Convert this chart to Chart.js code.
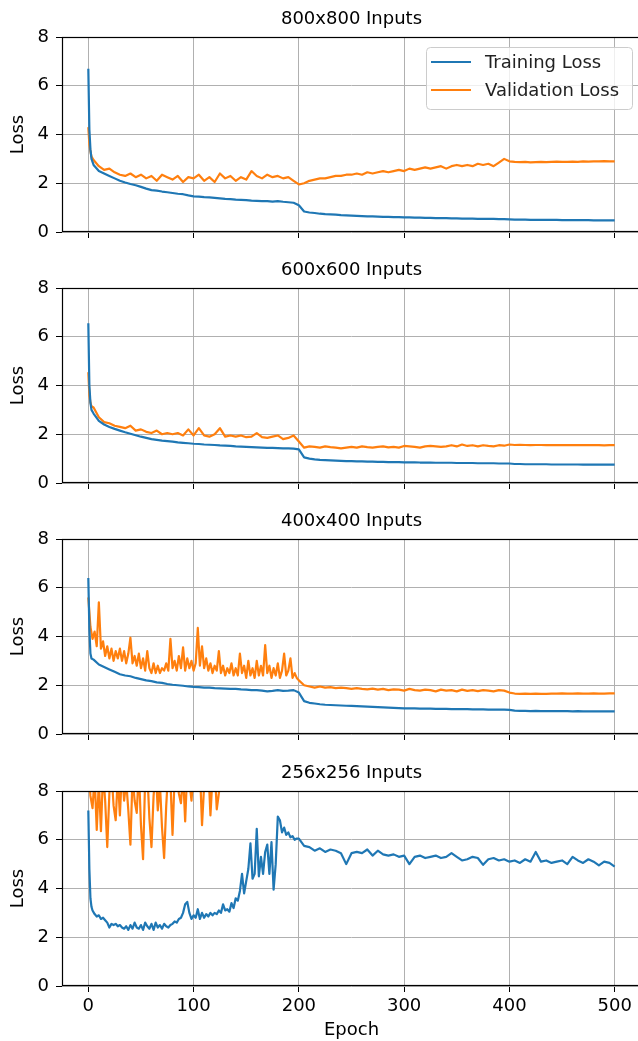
<!DOCTYPE html>
<html>
<head>
<meta charset="utf-8">
<script src="https://cdn.jsdelivr.net/npm/chart.js@4.4.1/dist/chart.umd.min.js"></script>
<style>
  html, body { margin: 0; padding: 0; background: #fff; overflow: hidden; }
  #wrap { position: relative; width: 638px; height: 1041px; overflow: hidden; }
  #wrap canvas { position: absolute; left: 0; }
</style>
</head>
<body>
<div id="wrap">
  <canvas id="c800"></canvas>
  <canvas id="c600"></canvas>
  <canvas id="c400"></canvas>
  <canvas id="c256"></canvas>
</div>
<script>
// sampled epochs (every 5, plus the first few)
const epochs = [0, 1, 2, 3].concat(Array.from({ length: 100 }, (_, i) => 5 + i * 5));
// noisier stretches are read every 2 epochs up to 200
const epochsDense = [0, 1, 2, 3].concat(Array.from({ length: 99 }, (_, i) => 4 + i * 2),
  Array.from({ length: 60 }, (_, i) => 205 + i * 5));
const epochsVal400 = Array.from({ length: 101 }, (_, i) => i * 2)
  .concat(Array.from({ length: 60 }, (_, i) => 205 + i * 5));
// 256x256 validation only shows while it is near the top of the axes
const epochsVal256 = Array.from({ length: 64 }, (_, i) => i * 2);

const train800 = [6.7, 4.2, 3.4, 3.0,
  2.75, 2.5, 2.4, 2.3, 2.2, 2.1, 2.03, 1.97, 1.92, 1.85,
  1.78, 1.72, 1.7, 1.66, 1.63, 1.6, 1.57, 1.55, 1.5, 1.46,
  1.45, 1.43, 1.42, 1.4, 1.38, 1.36, 1.35, 1.33, 1.32, 1.31,
  1.29, 1.28, 1.27, 1.27, 1.25, 1.27, 1.24, 1.22, 1.2, 1.1,
  0.84, 0.8, 0.78, 0.75, 0.73, 0.72, 0.71, 0.69, 0.68, 0.67,
  0.66, 0.65, 0.64, 0.64, 0.63, 0.62, 0.62, 0.61, 0.61, 0.6,
  0.6, 0.59, 0.59, 0.58, 0.58, 0.57, 0.57, 0.57, 0.56, 0.56,
  0.55, 0.55, 0.55, 0.54, 0.54, 0.54, 0.54, 0.53, 0.53, 0.52,
  0.51, 0.51, 0.51, 0.5, 0.5, 0.5, 0.5, 0.5, 0.5, 0.49,
  0.49, 0.49, 0.49, 0.49, 0.49, 0.48, 0.48, 0.48, 0.48, 0.48];
const val800 = [4.3, 3.6, 3.3, 3.1,
  2.95, 2.7, 2.55, 2.6, 2.45, 2.35, 2.3, 2.4, 2.25, 2.35,
  2.2, 2.3, 2.1, 2.35, 2.25, 2.15, 2.3, 2.05, 2.25, 2.2,
  2.35, 2.1, 2.25, 2.05, 2.4, 2.2, 2.3, 2.1, 2.25, 2.15,
  2.5, 2.3, 2.2, 2.35, 2.25, 2.3, 2.2, 2.25, 2.1, 1.95,
  2.0, 2.1, 2.15, 2.2, 2.2, 2.25, 2.3, 2.3, 2.35, 2.35,
  2.4, 2.35, 2.45, 2.4, 2.45, 2.5, 2.45, 2.5, 2.55, 2.5,
  2.6, 2.55, 2.6, 2.65, 2.6, 2.65, 2.7, 2.6, 2.7, 2.75,
  2.7, 2.75, 2.7, 2.8, 2.75, 2.8, 2.7, 2.85, 3.0, 2.9,
  2.88, 2.87, 2.88, 2.86, 2.87, 2.88, 2.87, 2.88, 2.89, 2.88,
  2.88, 2.89, 2.88, 2.9, 2.89, 2.9, 2.9, 2.91, 2.9, 2.9];

const train600 = [6.55, 4.0, 3.3, 3.0,
  2.85, 2.55, 2.4, 2.3, 2.22, 2.15, 2.08, 2.02, 1.96, 1.9,
  1.85, 1.8, 1.77, 1.74, 1.72, 1.7, 1.67, 1.65, 1.63, 1.61,
  1.6, 1.58, 1.57, 1.56, 1.54, 1.53, 1.52, 1.5, 1.49, 1.48,
  1.47, 1.46, 1.45, 1.44, 1.44, 1.43, 1.42, 1.42, 1.41, 1.38,
  1.05, 1.0, 0.97, 0.95, 0.94, 0.93, 0.92, 0.91, 0.9, 0.9,
  0.89, 0.89, 0.88, 0.88, 0.87, 0.87, 0.86, 0.86, 0.86, 0.85,
  0.85, 0.85, 0.84, 0.84, 0.84, 0.83, 0.83, 0.83, 0.83, 0.82,
  0.82, 0.82, 0.82, 0.81, 0.81, 0.81, 0.81, 0.8, 0.8, 0.8,
  0.78, 0.78, 0.77, 0.77, 0.77, 0.77, 0.77, 0.76, 0.76, 0.76,
  0.76, 0.76, 0.76, 0.75, 0.75, 0.75, 0.75, 0.75, 0.75, 0.75];
const val600 = [4.55, 3.6, 3.3, 3.15,
  3.1, 2.7, 2.5, 2.45, 2.35, 2.3, 2.25, 2.35, 2.15, 2.2,
  2.1, 2.05, 2.15, 2.0, 2.05, 2.0, 2.05, 1.95, 2.2, 1.95,
  2.25, 1.95, 1.9, 2.0, 2.25, 1.9, 1.95, 1.9, 1.95, 1.88,
  1.9, 2.05, 1.88, 1.85, 1.9, 1.95, 1.8, 1.85, 1.95, 1.7,
  1.45, 1.5, 1.48, 1.45, 1.5, 1.47, 1.45, 1.42, 1.45, 1.48,
  1.45, 1.5, 1.47, 1.45, 1.48, 1.5, 1.46, 1.48, 1.45, 1.52,
  1.5, 1.48, 1.45, 1.5, 1.52, 1.5, 1.48, 1.5, 1.55, 1.5,
  1.58, 1.52, 1.55, 1.5, 1.55, 1.52, 1.5, 1.55, 1.53, 1.58,
  1.56, 1.57, 1.56, 1.55, 1.56, 1.56, 1.55, 1.56, 1.55, 1.56,
  1.55, 1.56, 1.55, 1.55, 1.56, 1.55, 1.55, 1.54, 1.55, 1.55];

const train400 = [6.4, 4.3, 3.3, 3.1,
  3.05, 2.85, 2.75, 2.65, 2.55, 2.45, 2.4, 2.37, 2.3, 2.25,
  2.2, 2.17, 2.12, 2.1, 2.05, 2.02, 2.0, 1.98, 1.95, 1.93,
  1.92, 1.9, 1.9, 1.88, 1.87, 1.86, 1.85, 1.85, 1.83, 1.82,
  1.8, 1.8, 1.78, 1.75, 1.77, 1.8, 1.77, 1.78, 1.8, 1.7,
  1.35, 1.28, 1.25, 1.22, 1.2, 1.19, 1.18, 1.17, 1.16, 1.15,
  1.14, 1.13, 1.12, 1.11, 1.1, 1.09, 1.08, 1.07, 1.06, 1.05,
  1.05, 1.05, 1.04, 1.04, 1.04, 1.03, 1.03, 1.03, 1.02, 1.02,
  1.02, 1.02, 1.01, 1.01, 1.01, 1.0, 1.0, 1.0, 1.0, 0.99,
  0.96, 0.95, 0.95, 0.94, 0.95, 0.94, 0.94, 0.94, 0.94, 0.94,
  0.94, 0.93, 0.94, 0.93, 0.93, 0.93, 0.93, 0.93, 0.93, 0.93];
const val400 = [5.6, 4.4, 3.9, 4.2, 3.6, 5.4, 3.5, 3.8, 3.2, 3.6,
  3.1, 3.5, 3.0, 3.4, 3.1, 3.5, 3.0, 3.4, 2.9, 3.3,
  3.95, 2.9, 3.2, 2.8, 3.3, 2.7, 3.1, 2.6, 3.4, 2.7,
  2.5, 2.9, 2.5, 2.8, 2.5, 2.7, 2.6, 2.9, 2.6, 3.9,
  2.7, 3.0, 2.6, 3.2, 2.7, 3.55, 2.6, 3.1, 2.7, 3.0,
  2.6, 2.9, 4.35, 2.8, 3.6, 2.7, 3.1, 2.6, 2.9, 2.5,
  2.8, 2.6, 3.4, 2.5, 2.8, 2.4, 2.7, 2.5, 2.9, 2.4,
  2.7, 2.4, 3.3, 2.5, 2.8, 2.3, 3.0, 2.4, 2.7, 2.3,
  3.0, 2.4, 2.8, 2.4, 3.65, 2.5, 2.8, 2.3, 2.7, 2.4,
  2.9, 2.3, 2.6, 3.3, 2.4, 2.6, 3.1, 2.3, 2.5, 2.3,
  2.2,
  2.0, 1.95, 1.9, 1.95, 1.9, 1.92, 1.88, 1.9, 1.88, 1.85,
  1.88, 1.85, 1.83, 1.86, 1.82, 1.85, 1.8, 1.83, 1.82, 1.78,
  1.85, 1.8, 1.78, 1.82, 1.8, 1.75, 1.82, 1.78, 1.8, 1.75,
  1.82, 1.77, 1.8, 1.76, 1.8, 1.78, 1.75, 1.8, 1.78, 1.7,
  1.66, 1.65, 1.66, 1.65, 1.66, 1.65, 1.65, 1.66, 1.66, 1.67,
  1.66, 1.66, 1.67, 1.66, 1.66, 1.67, 1.66, 1.66, 1.67, 1.67];

const train256 = [7.2, 4.8, 3.6, 3.25,
  3.1, 2.95, 2.85, 2.9, 2.75, 2.8, 2.7, 2.6, 2.4, 2.55,
  2.5, 2.55, 2.45, 2.5, 2.4, 2.35, 2.45, 2.3, 2.5, 2.35,
  2.6, 2.4, 2.35, 2.5, 2.3, 2.6, 2.45, 2.35, 2.55, 2.3,
  2.6, 2.4, 2.5, 2.35, 2.55, 2.45, 2.4, 2.5, 2.55, 2.65,
  2.6, 2.75, 2.8, 3.0, 3.35, 3.45, 3.0, 2.75, 2.9, 2.8,
  3.15, 2.75, 3.0, 2.8, 2.95, 2.85, 3.0, 2.9, 3.0, 2.95,
  3.1, 3.0, 3.35, 3.1, 3.15, 3.05, 3.4, 3.2, 3.6, 3.5,
  3.9, 4.6, 3.8, 4.3, 4.8, 5.85, 4.4, 4.6, 6.45, 4.5,
  5.3, 4.6, 5.5, 5.8, 4.6, 5.9, 3.95, 5.0, 6.95, 6.8,
  6.3, 6.5, 6.2, 6.3, 6.1, 6.15, 6.0, 6.05, 6.05,
  5.75, 5.7, 5.55, 5.65, 5.5, 5.6, 5.55, 5.45, 5.0, 5.45,
  5.5, 5.45, 5.6, 5.35, 5.55, 5.4, 5.35, 5.4, 5.3, 5.35,
  5.0, 5.3, 5.35, 5.25, 5.3, 5.35, 5.25, 5.3, 5.45, 5.3,
  5.15, 5.2, 5.3, 5.25, 4.97, 5.2, 5.25, 5.15, 5.2, 5.1,
  5.15, 5.05, 5.2, 5.1, 5.5, 5.1, 5.15, 5.05, 5.1, 5.15,
  5.0, 5.3, 5.15, 5.05, 5.2, 5.1, 4.95, 5.1, 5.05, 4.9];
const val256 = [9.0, 7.8, 7.3, 8.6, 6.4, 8.4, 6.35, 8.8, 7.6, 5.7,
  7.9, 8.8, 7.4, 6.8, 8.6, 7.0, 8.9, 7.6, 8.4, 7.2,
  5.8, 8.6, 7.6, 7.1, 8.9, 6.6, 5.2, 8.5, 8.8, 6.9,
  5.7, 7.8, 8.9, 7.2, 8.3, 6.5, 5.25, 7.4, 8.9, 8.4,
  6.2, 8.6, 8.8, 7.9, 7.5, 8.7, 6.75, 8.9, 8.4, 7.6,
  8.8, 9.1, 8.5, 8.9, 6.6, 8.2, 8.8, 9.0, 7.0, 8.6,
  9.0, 7.25, 7.9, 8.8];

const panelTitles = ['800x800 Inputs', '600x600 Inputs', '400x400 Inputs', '256x256 Inputs'];
const seriesLabels = ['Training Loss', 'Validation Loss'];
const xTicks = [0, 100, 200, 300, 400, 500];
const yTicks = [0, 2, 4, 6, 8];

const BLUE = '#1f77b4';
const ORANGE = '#ff7f0e';
const GRID = '#b0b0b0';
const FONT = 'DejaVu Sans';
const FS = 18;
const PAD_TOP = 30, PLOT_H = 195, AXIS_H = 60, CANVAS_W = 660, PLOT_LEFT = 62, PLOT_RIGHT = 641;

// matplotlib-like box around the axes plus the axes title
const framePlugin = {
  id: 'frame',
  afterDatasetsDraw(chart, args, opts) {
    const { ctx, chartArea: a } = chart;
    ctx.save();
    ctx.strokeStyle = '#000';
    ctx.lineWidth = 1.2;
    const l = Math.round(a.left) + 0.5, t = Math.round(a.top) + 0.5;
    const r = Math.round(a.right) - 0.5, b = Math.round(a.bottom) - 0.5;
    ctx.strokeRect(l, t, r - l, b - t);
    ctx.fillStyle = '#000';
    ctx.font = FS + 'px "' + FONT + '"';
    ctx.textAlign = 'center';
    ctx.textBaseline = 'alphabetic';
    ctx.fillText(opts.text, (a.left + a.right) / 2, a.top - 13);
    ctx.restore();
  }
};

// legend box in the upper right corner of the first panel
const boxLegendPlugin = {
  id: 'boxLegend',
  afterDraw(chart) {
    const { ctx, chartArea: a } = chart;
    const w = 206, h = 62;
    const x = a.right - 9 - w, y = a.top + 10;
    ctx.save();
    ctx.beginPath();
    ctx.roundRect(x + 0.5, y + 0.5, w, h, 4);
    ctx.fillStyle = 'rgba(255,255,255,0.8)';
    ctx.fill();
    ctx.strokeStyle = '#cccccc';
    ctx.lineWidth = 1;
    ctx.stroke();
    ctx.font = FS + 'px "' + FONT + '"';
    ctx.textBaseline = 'middle';
    ctx.textAlign = 'left';
    chart.data.datasets.forEach((ds, i) => {
      const ly = y + 15 + i * 28;
      ctx.strokeStyle = ds.borderColor;
      ctx.lineWidth = 2.2;
      ctx.beginPath();
      ctx.moveTo(x + 5, ly);
      ctx.lineTo(x + 45, ly);
      ctx.stroke();
      ctx.fillStyle = '#222';
      ctx.fillText(ds.label, x + 59, ly + 1);
    });
    ctx.restore();
  }
};

function series(xs, ys) {
  return xs.map((e, i) => ({ x: e, y: ys[i] }));
}

function makePanel(id, plotTop, title, trainX, train, valX, val, isLast, withLegend) {
  const canvas = document.getElementById(id);
  canvas.width = CANVAS_W;
  canvas.height = PAD_TOP + PLOT_H + AXIS_H;
  canvas.style.top = (plotTop - PAD_TOP) + 'px';
  const font = { family: FONT, size: FS };
  new Chart(canvas, {
    type: 'line',
    data: {
      datasets: [
        {
          label: seriesLabels[0], data: series(trainX, train),
          borderColor: BLUE, borderWidth: 2.2, pointRadius: 0, borderJoinStyle: 'round'
        },
        {
          label: seriesLabels[1], data: series(valX, val),
          borderColor: ORANGE, borderWidth: 2.2, pointRadius: 0, borderJoinStyle: 'round'
        }
      ]
    },
    options: {
      responsive: false,
      animation: false,
      devicePixelRatio: 1,
      layout: { padding: { top: PAD_TOP, right: CANVAS_W - PLOT_RIGHT, left: 0, bottom: 0 } },
      scales: {
        x: {
          type: 'linear', min: -25, max: 525,
          afterBuildTicks: s => { s.ticks = xTicks.map(v => ({ value: v })); },
          afterFit: s => { s.height = AXIS_H; },
          grid: { color: GRID, lineWidth: 1, tickLength: 6, tickColor: '#000' },
          border: { display: false },
          ticks: { display: isLast, color: '#000', font: font, padding: 4, maxRotation: 0, autoSkip: false },
          title: { display: isLast, text: 'Epoch', color: '#000', font: font, padding: { top: 0, bottom: 5 } }
        },
        y: {
          min: 0, max: 8,
          afterBuildTicks: s => { s.ticks = yTicks.map(v => ({ value: v })); },
          afterFit: s => { s.width = PLOT_LEFT; },
          grid: { color: GRID, lineWidth: 1, tickLength: 6, tickColor: '#000' },
          border: { display: false },
          ticks: { color: '#000', font: font, padding: 7 },
          title: { display: true, text: 'Loss', color: '#000', font: font, padding: { top: 8, bottom: 0 } }
        }
      },
      plugins: {
        legend: { display: false },
        tooltip: { enabled: false },
        frame: { text: title }
      }
    },
    plugins: withLegend ? [framePlugin, boxLegendPlugin] : [framePlugin]
  });
}

makePanel('c800', 37, panelTitles[0], epochs, train800, epochs, val800, false, true);
makePanel('c600', 288, panelTitles[1], epochs, train600, epochs, val600, false, false);
makePanel('c400', 539, panelTitles[2], epochs, train400, epochsVal400, val400, false, false);
makePanel('c256', 791, panelTitles[3], epochsDense, train256, epochsVal256, val256, true, false);
</script>
</body>
</html>
